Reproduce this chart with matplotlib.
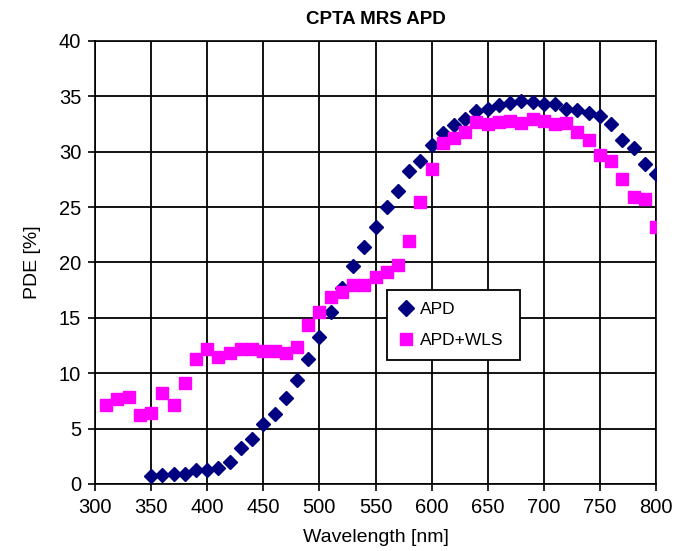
import matplotlib
matplotlib.use("Agg")
import matplotlib.pyplot as plt

plt.rcParams["font.family"] = ["Liberation Sans", "DejaVu Sans"]

# APD (diamonds), 350-800 nm
apd_wl = [350, 360, 370, 380, 390, 400, 410, 420, 430, 440,
          450, 460, 470, 480, 490, 500, 510, 520, 530, 540,
          550, 560, 570, 580, 590, 600, 610, 620, 630, 640,
          650, 660, 670, 680, 690, 700, 710, 720, 730, 740,
          750, 760, 770, 780, 790, 800]
apd_pde = [0.7, 0.85, 0.9, 0.9, 1.25, 1.25, 1.4, 2.0, 3.25, 4.1,
           5.4, 6.3, 7.8, 9.35, 11.3, 13.3, 15.5, 17.7, 19.7, 21.4,
           23.2, 25.0, 26.5, 28.3, 29.2, 30.6, 31.7, 32.4, 33.0, 33.7,
           33.9, 34.2, 34.4, 34.55, 34.5, 34.3, 34.3, 33.9, 33.8, 33.5,
           33.2, 32.55, 31.05, 30.3, 28.9, 28.0]

# APD+WLS (squares), 310-800 nm
wls_wl = [310, 320, 330, 340, 350, 360, 370, 380, 390, 400,
          410, 420, 430, 440, 450, 460, 470, 480, 490, 500,
          510, 520, 530, 540, 550, 560, 570, 580, 590, 600,
          610, 620, 630, 640, 650, 660, 670, 680, 690, 700,
          710, 720, 730, 740, 750, 760, 770, 780, 790, 800]
wls_pde = [7.1, 7.7, 7.9, 6.2, 6.4, 8.2, 7.1, 9.1, 11.25, 12.2,
           11.5, 11.85, 12.15, 12.15, 12.0, 12.0, 11.8, 12.4, 14.4, 15.5,
           16.9, 17.3, 17.95, 17.95, 18.7, 19.1, 19.8, 21.9, 25.5, 28.4,
           30.75, 31.2, 31.8, 32.7, 32.55, 32.7, 32.75, 32.6, 32.95, 32.8,
           32.55, 32.6, 31.8, 31.1, 29.7, 29.15, 27.5, 25.9, 25.7, 23.2]

fig = plt.figure(figsize=(6.86, 5.51), dpi=100)
ax = fig.add_axes([0.1385, 0.1216, 0.8178, 0.804])

ax.plot(apd_wl, apd_pde, linestyle="none", marker="D", markersize=7,
        color="#000080", label="APD", zorder=3)
ax.plot(wls_wl, wls_pde, linestyle="none", marker="s", markersize=8.5,
        color="#FF00FF", label="APD+WLS", zorder=3)

ax.set_xlim(300, 800)
ax.set_ylim(0, 40)
ax.set_xticks(range(300, 801, 50))
ax.set_yticks(range(0, 41, 5))
ax.grid(True, color="black", linewidth=1.3)
ax.set_axisbelow(True)
ax.tick_params(direction="out", length=5, width=1.2, labelsize=14.5, pad=5)
for s in ax.spines.values():
    s.set_color("black")
    s.set_linewidth(1.2)

ax.set_xlabel("Wavelength [nm]", fontsize=14, labelpad=9)
ax.set_ylabel("PDE [%]", fontsize=14, labelpad=13)
ax.set_title("CPTA MRS APD", fontsize=13.5, fontweight="bold", pad=12)

leg = ax.legend(loc="upper left", bbox_to_anchor=(0.52, 0.438, 0.237, 0.0),
                mode="expand", borderaxespad=0, fontsize=12.5, frameon=True,
                fancybox=False, framealpha=1, edgecolor="black",
                handletextpad=0.4, borderpad=0.7, labelspacing=0.9,
                handlelength=0.8, markerscale=1.1)
leg.get_frame().set_linewidth(1.3)

fig.savefig("out.png", dpi=100)
